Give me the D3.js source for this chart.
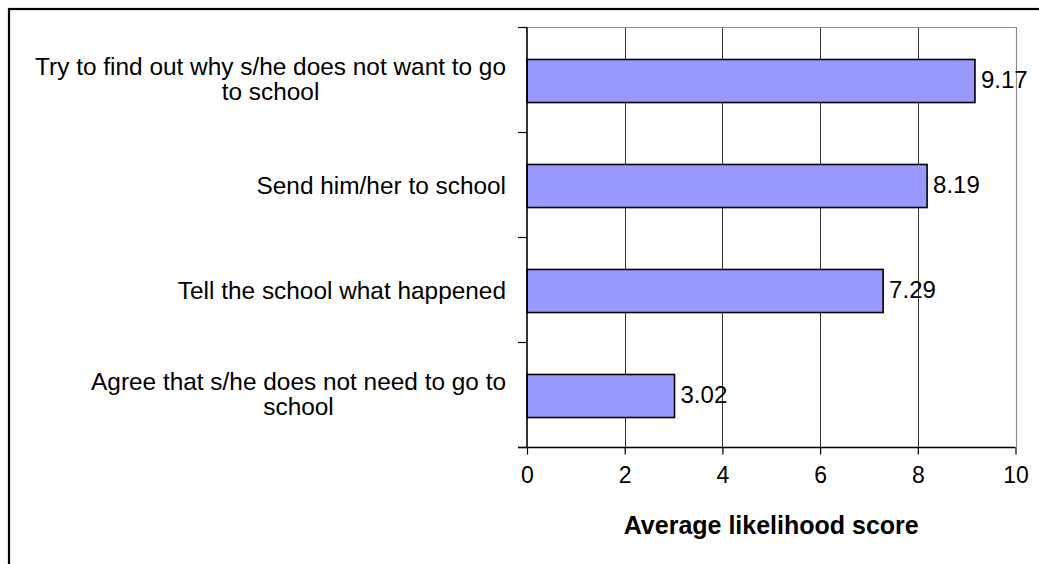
<!DOCTYPE html>
<html>
<head>
<meta charset="utf-8">
<script src="https://cdn.jsdelivr.net/npm/d3@7"></script>
<style>
  html, body { margin: 0; padding: 0; background: #fff; }
  svg { display: block; font-family: Arial, "Liberation Sans", sans-serif; }
</style>
</head>
<body>
<svg id="chart" width="1039" height="564"></svg>
<script>
// ---- data ----
const categories = [
  "Try to find out why s/he does not want to go to school",
  "Send him/her to school",
  "Tell the school what happened",
  "Agree that s/he does not need to go to school"
];
const values = [9.17, 8.19, 7.29, 3.02];
const xTicks = [0, 2, 4, 6, 8, 10];
const xTitle = "Average likelihood score";

// ---- layout ----
const svg = d3.select("#chart");
const plot = { left: 527, right: 1015.5, top: 27.5, bottom: 447.5 };
const labelSize = 24.4;
const tickSize = 23;
const valueSize = 24;
const titleSize = 25;
const labelRight = 506;

// outer frame (cropped on right and bottom)
svg.append("rect")
  .attr("x", 9).attr("y", 9)
  .attr("width", 1200).attr("height", 800)
  .attr("fill", "#fff")
  .attr("stroke", "#000").attr("stroke-width", 2.2);

const x = d3.scaleLinear().domain([0, 10]).range([plot.left, plot.right]);
const y = d3.scaleBand().domain(categories)
  .range([plot.top + 1, plot.bottom + 1])
  .paddingInner(0.59).paddingOuter(0.295);

// gridlines
svg.append("g").selectAll("line")
  .data(xTicks.filter(t => t > 0 && t < 10))
  .join("line")
  .attr("x1", d => Math.round(x(d)) + 0.5).attr("x2", d => Math.round(x(d)) + 0.5)
  .attr("y1", plot.top).attr("y2", plot.bottom)
  .attr("stroke", "#333").attr("stroke-width", 1);

// plot area top and right border (grey)
svg.append("path")
  .attr("d", `M${plot.left},${plot.top}H${Math.round(plot.right) + 0.5}V${plot.bottom}`)
  .attr("fill", "none").attr("stroke", "#8c8c8c").attr("stroke-width", 1.2);

// bars
svg.append("g").selectAll("rect")
  .data(categories)
  .join("rect")
  .attr("x", x(0))
  .attr("y", d => y(d))
  .attr("width", (d, i) => x(values[i]) - x(0))
  .attr("height", y.bandwidth())
  .attr("fill", "#9999FF")
  .attr("stroke", "#000").attr("stroke-width", 1.6);

// x axis
const xAxis = d3.axisBottom(x).tickValues(xTicks).tickSize(7).tickPadding(12).tickSizeOuter(0);
const gx = svg.append("g")
  .attr("transform", `translate(0,${plot.bottom})`)
  .call(xAxis);
gx.select(".domain").remove();
gx.append("line").attr("x1", plot.left - 9).attr("x2", plot.right).attr("y1", 0).attr("y2", 0)
  .attr("stroke", "#000").attr("stroke-width", 1.4);
gx.selectAll(".tick line").attr("stroke", "#000").attr("stroke-width", 1.2);
gx.selectAll(".tick text")
  .attr("font-family", "Arial, 'Liberation Sans', sans-serif")
  .attr("font-size", tickSize).attr("fill", "#000");

// y axis line and band-boundary ticks
svg.append("line")
  .attr("x1", plot.left).attr("x2", plot.left)
  .attr("y1", plot.top).attr("y2", plot.bottom)
  .attr("stroke", "#000").attr("stroke-width", 1.6);
const bandH = (plot.bottom - plot.top) / categories.length;
const bounds = d3.range(categories.length + 1).map(i => plot.top + i * bandH);
svg.append("g").selectAll("line")
  .data(bounds)
  .join("line")
  .attr("x1", plot.left - 9).attr("x2", plot.left)
  .attr("y1", d => d).attr("y2", d => d)
  .attr("stroke", "#000").attr("stroke-width", 1.2);

// category labels (wrapped; lines centred within a right-aligned block)
const maxLabelWidth = 482;
const labelG = svg.append("g");
categories.forEach((c) => {
  const t = labelG.append("text")
    .attr("text-anchor", "middle")
    .attr("font-size", labelSize)
    .attr("fill", "#000");
  const words = c.split(" ");
  let lines = [], cur = [];
  const tmp = t.append("tspan");
  words.forEach(w => {
    cur.push(w);
    tmp.text(cur.join(" "));
    if (tmp.node().getComputedTextLength() > maxLabelWidth && cur.length > 1) {
      cur.pop();
      lines.push(cur.join(" "));
      cur = [w];
    }
  });
  lines.push(cur.join(" "));
  // widest line determines the block
  let blockW = 0;
  lines.forEach(ln => { tmp.text(ln); blockW = Math.max(blockW, tmp.node().getComputedTextLength()); });
  tmp.remove();
  const cx = labelRight - blockW / 2;
  const lh = 25;
  const cy = y(c) + y.bandwidth() / 2;
  const y0 = cy - (lines.length - 1) * lh / 2 + 8 - (lines.length > 1 ? 2 : 0);
  lines.forEach((ln, j) => {
    t.append("tspan").attr("x", cx).attr("y", y0 + j * lh).text(ln);
  });
});

// value labels
svg.append("g").selectAll("text")
  .data(categories)
  .join("text")
  .attr("x", (d, i) => x(values[i]) + 6)
  .attr("y", d => y(d) + y.bandwidth() / 2 + 7)
  .attr("font-size", valueSize)
  .attr("fill", "#000")
  .text((d, i) => values[i].toFixed(2));

// x axis title
svg.append("text")
  .attr("x", (plot.left + plot.right) / 2)
  .attr("y", 534)
  .attr("text-anchor", "middle")
  .attr("font-size", titleSize)
  .attr("font-weight", "bold")
  .attr("fill", "#000")
  .text(xTitle);
</script>
</body>
</html>
